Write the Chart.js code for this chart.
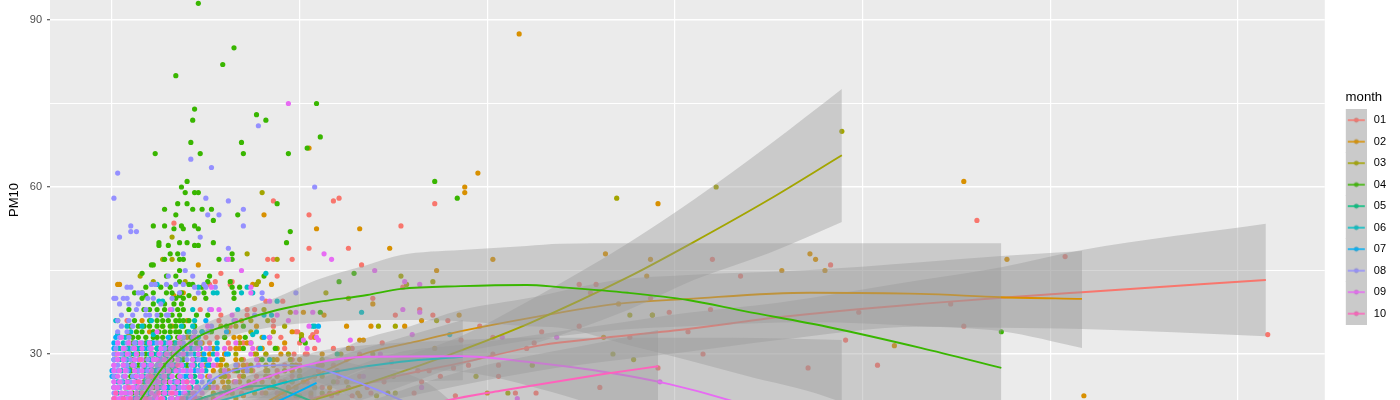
<!DOCTYPE html>
<html><head><meta charset="utf-8">
<style>html,body{margin:0;padding:0;background:#fff;overflow:hidden}canvas{display:block}</style>
<script src="https://cdn.jsdelivr.net/npm/chart.js@4/dist/chart.umd.min.js"></script>
</head><body><canvas id="c" width="1400" height="400"></canvas>
<script>
const months = ['01','02','03','04','05','06','07','08','09','10'];
const colors = ['#F8766D','#D89000','#A3A500','#39B600','#00BF7D','#00BFC4','#00B0F6','#9590FF','#E76BF3','#FF62BC'];
const yTicks = [30,60,90];

// Observations, one row per PM10 level: [PM10, x, x, x ...]
const obs01 = [[58,121],[57.5,118,86],[57,172],[55,105],[54,461],[53.5,33],[53,154],[49,105,126],[47.5,508],[47,320,96,83,86],[46,383,133],[44.5,58],[44,335,88],[43,55,64],[42.5,249,258,63,52],[42,155],[41,255],[40,287,139],[39.5,82,91],[39,447],[38,319,164,47,72,76],[37.5,297,398],[37,151,171,58,72],[36,179,8,57,86],[35,196,249,454,63,86],[34,229,307,99,109,98],[33.5,107,616],[33,203,276,56,106,50,90],[32.5,186,391],[32,225,144,62,52,100,70,84],[31,221,108,118,128,45,63,78,92],[30,203,315,97,104,132,94,103,60,82],[29,96,125,70,84],[28.5,149],[28,190,206,408,67,72,118,92,56,100],[27.5,371,291,182],[27,163,169,65,88,110,75,96],[26,206,175,132,62,77,96,121,68,84],[25,120,165,65,90,104,145,76,96],[24,260,70,84,112,136,56,98],[23,215,226,161,138,120,69,80,97,64,88],[22.5,117,128,183,92,106]];
const obs02 = [[87.5,217],[67,105],[62.5,195],[61,454],[60,188],[59,188],[57,291],[55,81],[52.5,109,132],[49,148],[48,263,372],[47,203,287,375,477],[46,46],[45,173,357,380],[44,285],[42.5,75,85,3,4],[41,38],[40.5,33],[39,139,270],[37.5,102],[37,113,185,288],[36,165,16,40,69],[35,125,138,156,27,32,77],[34,20,62,44,96],[33,262,65,68,40,84,108],[32.5,132,134],[32,48,72,92],[31.5,417],[31,126,172,66,68,52,80],[30,2,52,90,60,76,112],[29,59,78,100,66,88],[28,110,112,58,86,44,70,98],[27,54,70,96,120,62,82],[26,51,70,88,108,60,100],[25,59,80,102,125,68,92],[24,52,74,94,116,60,84],[23,200,131,61,82,106,90,116],[22.5,518,132,70,98],[22,54,90]];
const obs03 = [[70,389],[60,322],[59,80],[58,269],[51,32],[48,72],[47,27,32,88],[44,15,154],[43,22,39,78,171],[42.5,157,77],[41,114],[40,126,44],[38,81],[37.5,95],[37,276,288],[36,173,74,83],[35,142,151,58,66,44,92],[34,22,74,52,86],[33.5,101,9],[33,101,60,80],[32,9,68,46,74],[31,54,88],[30,267,122,139,66,77,82,48,94],[29,278,95,112,69,36,58,86],[28,224,61,82,40,50,74,96],[27,58,83,100,74,66,92],[26,194,150,58,60,82,112,70,100],[25,54,73,96,118,62,86],[24,62,86,108,126,72,98],[23,211,147,151,112,54,76,64,92],[22.5,141,100],[22,47,66,88]];
const obs04 = [[93,46],[85,65],[82,59],[80,34],[75,109],[74,44],[73,77],[72,43,82],[69,111],[68,42,69],[67,104],[66,23,47,70,94],[61,40,172],[60,37],[59,39,44,46],[58,184],[57,35,88,40],[56,28,43,48,53],[55,34,67],[54,54],[53,22,28,37,44],[52.5,33,38,46],[52,95],[50,25,36,40,54,93],[49.5,25,30,44,46],[48,31,35,64],[47,28,36,38,57,64],[46,21,22],[45,36],[44.5,129,16],[44,29,34,52,81],[43,36,51,63,121],[42.5,41,43],[42,18,26,31,48,64,68],[41,12,16,22,29,32,37,49,65],[40.5,18,36,41],[40,16,34,38,50,65],[39,28,33,37,22],[38,9,17,20,24,28,38,35],[37.5,111],[37,36,45,51,26,32],[36,3,12,36,38,30,34,20,24,27,41],[35,14,20,24,31,61,70,38,10,17,27,34,44],[34,16,31,28,53,34,36,474,13,22,25,40,48],[33,11,18,31,71,35,38,27,14,22,24,42,60],[32.5,101],[32,18,30,103,37,24,11,21,27,33,45],[31,20,31,87,12,36,8,16,24,28,42,70],[30,10,24,32,18,38,7,14,21,28,35,46],[29,11,18,26,49,80,32,38,15,22,29,43],[28,21,28,14,34,40,10,17,24,31,37],[27,10,23,31,67,17,13,20,27,35],[26,10,23,31,16,19,27,35],[25,17,8,30,13,21,27,34],[24,12,26,34,8,16,22,30],[23,20,7,30,11,16,24,34],[22,14,28,6,19,24,32]];
const obs05 = [[31,15,30],[30,120,22,38],[29,6,29,44],[28,11,26,52],[27,46,20,35],[26,16,30,44],[25,9,24,36],[24,28,42,14,50],[23,13,27,41],[22,18,35]];
const obs06 = [[44.5,82],[42.5,24],[42,72,46],[41,54,56,69,75],[39.5,25,27,88],[38,43,67],[37.5,133],[37,81,85],[36,2,21,44],[35,16,37,43,108,107,8],[34,48,77,10,41],[33.5,3,22,75,180],[33,7,46],[32,13,34,19,6,28,42,56],[31,4,24,27,79,42,9,14,19,33,47],[30,6,20,62,28,12,24,34,44,54],[29,15,30,45,84,8,4,20,25,36,50],[28,8,25,47,32,12,18,38,44],[27,18,50,5,28,40,9,14,22,33],[26,47,2,12,26,36,7,17,22,31,41],[25,27,6,18,40,3,13,23,33,45],[24,8,20,30,42,4,13,25,35,50],[23,34,3,15,24,8,19,29,40],[22,23,6,44,12,18,28,38]];
const obs07 = [[36,50],[35,110],[34,44,61],[33,81,2,30],[32,1,22],[31,1,56,17,38],[30,49,61,9,26,40],[29,1,48,56,24],[28,51,21,6,33],[27,0,44,24,14,30],[26,0,39,11],[25,22,52],[24,1,29,46],[23,20,36],[22,12,40]];
const obs08 = [[71,78],[65,42],[63.5,53],[62.5,3],[60,108],[58,1,50],[57.5,62],[56,70],[55,51,57],[53,70,10],[52,10,13],[51,4,47],[49,62],[48,38],[47,61],[45,39],[44,30,43],[42.5,21,23,29,34,38,49],[42,8,10,44,50,55],[41,98,14,16,36,46,80],[40,1,2,6,8,19,22,32,80],[39,4,9,14,26],[38,13,18,32,52],[37,18,20,30,29,76,5,11,24],[36,65,3,9],[35,53,5,11],[34,51,3,8,44],[33,43,4,9,38],[32,42,47,16,24,3,8,12,20,30,38],[31,7,44,28,2,11,20,33,52],[30,13,16,42,30,1,5,9,21,26,36],[29,3,40,26,14,1,7,10,19,31,46],[28,3,12,37,66,24,1,8,16,20,30,42],[27,3,14,36,72,25,46,1,8,19,30,40],[26,6,27,37,15,48,1,11,20,32,42],[25,1,20,34,48,10,28,5,14,24,38,43],[24,1,16,39,8,27,46,4,12,20,32,36],[23,5,24,44,13,33,1,9,18,28,38],[22,9,42,1,22,31,50,5,14,27,36,46]];
const obs09 = [[75,94],[48,113],[47,117,62],[45,140,69],[43,156],[42.5,164],[42,53,74],[41,74],[39.5,84],[38,155,31,53,57],[37.5,98,107,164],[37,64,88],[36,66,94],[35,105,51],[34,24],[33.5,160],[33,208,237,36,84,109,5,44],[32.5,102,110,127],[32,3,15,26,66,74,36,9,20,31,42],[31,104,12,16,35,40,50,75,6,21,26,31,46,60],[30,143,29,38,74,3,21,8,13,25,33,46,56],[29,22,35,52,77,6,12,28,3,16,24,31,43],[28,6,17,32,43,78,26,48,1,11,21,37,54],[27,7,27,42,60,1,16,34,4,12,21,30,38,48],[26,134,3,13,19,32,42,24,52,7,16,28,36,47],[25,292,4,12,25,38,43,66,19,31,1,8,15,22,28,35],[24,165,3,11,24,33,45,18,38,54,1,7,14,21,28,41],[23,2,10,17,28,39,7,34,48,5,13,21,25,31,43],[22.5,23,44],[22,216,4,13,27,32,20,38,2,8,16,24,35,44]];
const obs10 = [[29,15],[28,35],[26,21],[25,14,40],[24,9,41],[23,2,25,58,16,32],[22,1,18,37,6,10,26,44]];

// Fitted curves with their confidence bands
const fitX01 = [47,100,127,154,186,229,262,307,355,431,474,517,615];
const fitY01 = [17.2,21.4,23.9,26.2,28.4,31.6,32.9,34.5,36.6,39.0,40.1,41.1,43.3];
const fitHi01 = [19.0,24.4,27.5,30.4,31.6,33.6,35.2,37.4,39.2,43.3,45.6,48.7,53.4];
const fitLo01 = [15.4,18.1,20.3,22.1,24.4,27.1,28.6,30.4,32.5,34.9,34.7,34.5,33.2];
const fitX02 = [47,79,97,118,136,159,186,223,269,307,372,431,474,517];
const fitY02 = [16.3,20.8,24.1,27.7,30.2,32.0,34.1,36.5,39.0,39.9,41.0,40.8,40.2,39.9];
const fitHi02 = [19.0,23.2,26.8,30.2,32.9,35.0,37.9,40.1,43.3,44.2,45.1,46.5,47.6,48.5];
const fitLo02 = [13.7,18.1,21.4,25.0,27.5,28.9,30.4,32.5,34.3,35.0,35.7,35.0,34.1,31.1];
const fitX03 = [47,113,141,184,223,275,310,350,389];
const fitY03 = [16.3,22.3,25.3,30.4,35.6,43.8,50.1,57.7,65.7];
const fitHi03 = [18.1,24.4,28.0,32.9,39.7,49.9,57.7,67.5,77.6];
const fitLo03 = [14.6,19.9,22.6,27.8,31.6,37.9,43.3,48.1,53.7];
const fitX04 = [0,15,29,45,65,88,109,136,154,186,221,239,275,307,337,381,431,474];
const fitY04 = [14.5,21.7,28.4,32.9,35.6,37.9,39.3,40.6,41.7,42.2,42.4,42.0,41.0,39.7,37.7,34.9,31.1,27.5];
const fitHi04 = [16.3,24.4,30.7,34.7,37.5,40.2,43.3,46.0,47.8,48.7,49.4,49.8,49.9,49.9,49.9,49.9,49.9,49.9];
const fitLo04 = [11.0,17.2,25.3,30.7,33.4,35.0,35.7,36.1,36.1,35.9,35.0,34.7,31.6,28.9,26.2,22.3,15.1,9.2];
const fitX05 = [36,68,82,95,105,127];
const fitY05 = [20.8,23.9,24.3,23.0,21.7,18.1];
const fitHi05 = [22.6,25.7,26.4,25.7,24.6,22.6];
const fitLo05 = [19.0,22.1,22.1,20.3,18.9,13.7];
const fitX06 = [31,65,91,118,154,187];
const fitY06 = [19.0,22.3,24.8,26.8,28.6,29.5];
const fitHi06 = [20.3,23.9,26.2,29.3,32.9,36.1];
const fitLo06 = [17.8,20.7,23.2,24.3,25.0,25.3];
const fitX07 = [47,74,91,109];
const fitY07 = [16.3,19.6,21.9,24.8];
const fitHi07 = [18.1,21.4,24.4,28.0];
const fitLo07 = [14.6,17.8,19.6,21.4];
const fitX08 = [28,43,56,74,91,109,132,154,170,189];
const fitY08 = [18.1,22.3,25.9,27.7,28.0,27.5,24.8,21.7,19.0,15.0];
const fitHi08 = [19.6,23.9,27.1,29.3,30.0,29.8,28.0,26.8,24.4,19.0];
const fitLo08 = [16.7,20.7,24.4,26.0,26.0,25.0,21.4,16.3,12.8,8.0];
const fitX09 = [42,56,83,109,136,186,221,266,297,329,389];
const fitY09 = [19.0,22.1,25.9,28.4,29.5,29.6,28.6,26.6,24.6,21.7,14.6];
const fitHi09 = [20.8,23.5,27.5,30.4,31.6,32.5,32.9,32.9,32.9,32.9,32.5];
const fitLo09 = [17.2,20.7,24.3,26.4,27.3,26.8,24.4,19.9,16.3,10.1,-3.4];
const fitX10 = [127,179,207,262,291];
const fitY10 = [17.2,21.7,23.4,26.4,27.8];
const fitHi10 = [20.3,26.2,28.6,32.2,34.3];
const fitLo10 = [14.2,17.2,18.1,20.7,21.2];

const observations = [obs01,obs02,obs03,obs04,obs05,obs06,obs07,obs08,obs09,obs10];
const fits = [
  [fitX01,fitY01,fitHi01,fitLo01],[fitX02,fitY02,fitHi02,fitLo02],[fitX03,fitY03,fitHi03,fitLo03],
  [fitX04,fitY04,fitHi04,fitLo04],[fitX05,fitY05,fitHi05,fitLo05],[fitX06,fitY06,fitHi06,fitLo06],
  [fitX07,fitY07,fitHi07,fitLo07],[fitX08,fitY08,fitHi08,fitLo08],[fitX09,fitY09,fitHi09,fitLo09],
  [fitX10,fitY10,fitHi10,fitLo10]
];

const RIBBON = 'rgba(153,153,153,0.4)';
const rowsToPoints = rows => rows.flatMap(([y,...xs]) => xs.map(x => ({x,y})));
const zip = (xs,ys) => xs.map((x,i) => ({x,y:ys[i]}));

const datasets = [];
let rank = 10000;
months.forEach((m,i) => {
  datasets.push({label:m,type:'scatter',data:rowsToPoints(observations[i]),backgroundColor:colors[i],borderWidth:0,pointRadius:2.6,pointHoverRadius:2.6,order:rank--});
});
months.forEach((m,i) => {
  const [xs,ys,hi,lo] = fits[i];
  const curve = {type:'line',pointRadius:0,cubicInterpolationMode:'monotone'};
  datasets.push({...curve,label:m+' upper',data:zip(xs,hi),borderWidth:0,backgroundColor:RIBBON,fill:'+1',order:rank--});
  datasets.push({...curve,label:m+' lower',data:zip(xs,lo),borderWidth:0,fill:false,order:rank--});
  datasets.push({...curve,label:m+' fit',data:zip(xs,ys),borderColor:colors[i],borderWidth:1.9,fill:false,order:rank--});
});

function keyImage(color){
  const c = document.createElement('canvas'); c.width = 30; c.height = 22;
  const g = c.getContext('2d');
  g.fillStyle = '#EBEBEB'; g.fillRect(9,0,21,22);
  g.fillStyle = color; g.beginPath(); g.arc(19.5,11,2.4,0,Math.PI*2); g.fill();
  g.fillStyle = RIBBON; g.fillRect(9,0,21,22);
  g.strokeStyle = color; g.lineWidth = 1.8; g.globalAlpha = .85;
  g.beginPath(); g.moveTo(11,11); g.lineTo(28,11); g.stroke();
  return c;
}
const keys = colors.map(keyImage);

const panelBackground = {
  id:'panelBackground',
  afterLayout(chart){ chart.legend.width += 7; },
  beforeDraw(chart){
    const a = chart.chartArea, g = chart.ctx;
    g.save(); g.fillStyle = '#EBEBEB'; g.fillRect(a.left,a.top,a.width,a.height); g.restore();
  }
};

new Chart(document.getElementById('c'),{
  type:'scatter',
  data:{datasets},
  plugins:[panelBackground],
  options:{
    responsive:false,animation:false,
    layout:{autoPadding:false,padding:{top:0,bottom:0,left:0,right:4}},
    scales:{
      x:{type:'linear',min:-33.07,max:646.4,
        border:{display:false},
        grid:{color:'#FFFFFF',lineWidth:1.2,drawTicks:false},
        ticks:{display:false,stepSize:100,includeBounds:false},
        afterFit(s){s.height=0;s.paddingLeft=0;s.paddingRight=0;}
      },
      y:{type:'linear',min:21.74,max:93.59,
        border:{display:false},
        title:{display:true,text:'PM10',color:'#000000',font:{family:'"Liberation Sans"',size:13},padding:{top:7,bottom:0}},
        grid:{color:'#FFFFFF',
          lineWidth:c => (yTicks.includes(c.tick && c.tick.value) ? 1.5 : 1.1),
          tickColor:c => (yTicks.includes(c.tick && c.tick.value) ? '#333333' : 'rgba(0,0,0,0)'),
          tickLength:3,tickWidth:1},
        ticks:{stepSize:15,includeBounds:false,color:'#4D4D4D',padding:5,font:{family:'"Liberation Sans"',size:11},
          callback:v => (yTicks.includes(v) ? String(v) : '')},
        afterFit(s){s.width=50;s.paddingTop=0;s.paddingBottom=0;}
      }
    },
    plugins:{
      tooltip:{enabled:false},
      legend:{
        position:'right',align:'center',onClick:null,
        title:{display:true,text:'month',position:'center',color:'#000000',font:{family:'"Liberation Sans"',size:13.2},padding:{top:20,bottom:-2}},
        labels:{
          usePointStyle:true,pointStyleWidth:33,padding:10.5,color:'#000000',
          font:{family:'"Liberation Sans"',size:11},
          generateLabels:() => months.map((m,i) => ({text:m,pointStyle:keys[i],fontColor:'#000000',lineWidth:0,hidden:false,datasetIndex:i}))
        }
      }
    }
  }
});
</script></body></html>
